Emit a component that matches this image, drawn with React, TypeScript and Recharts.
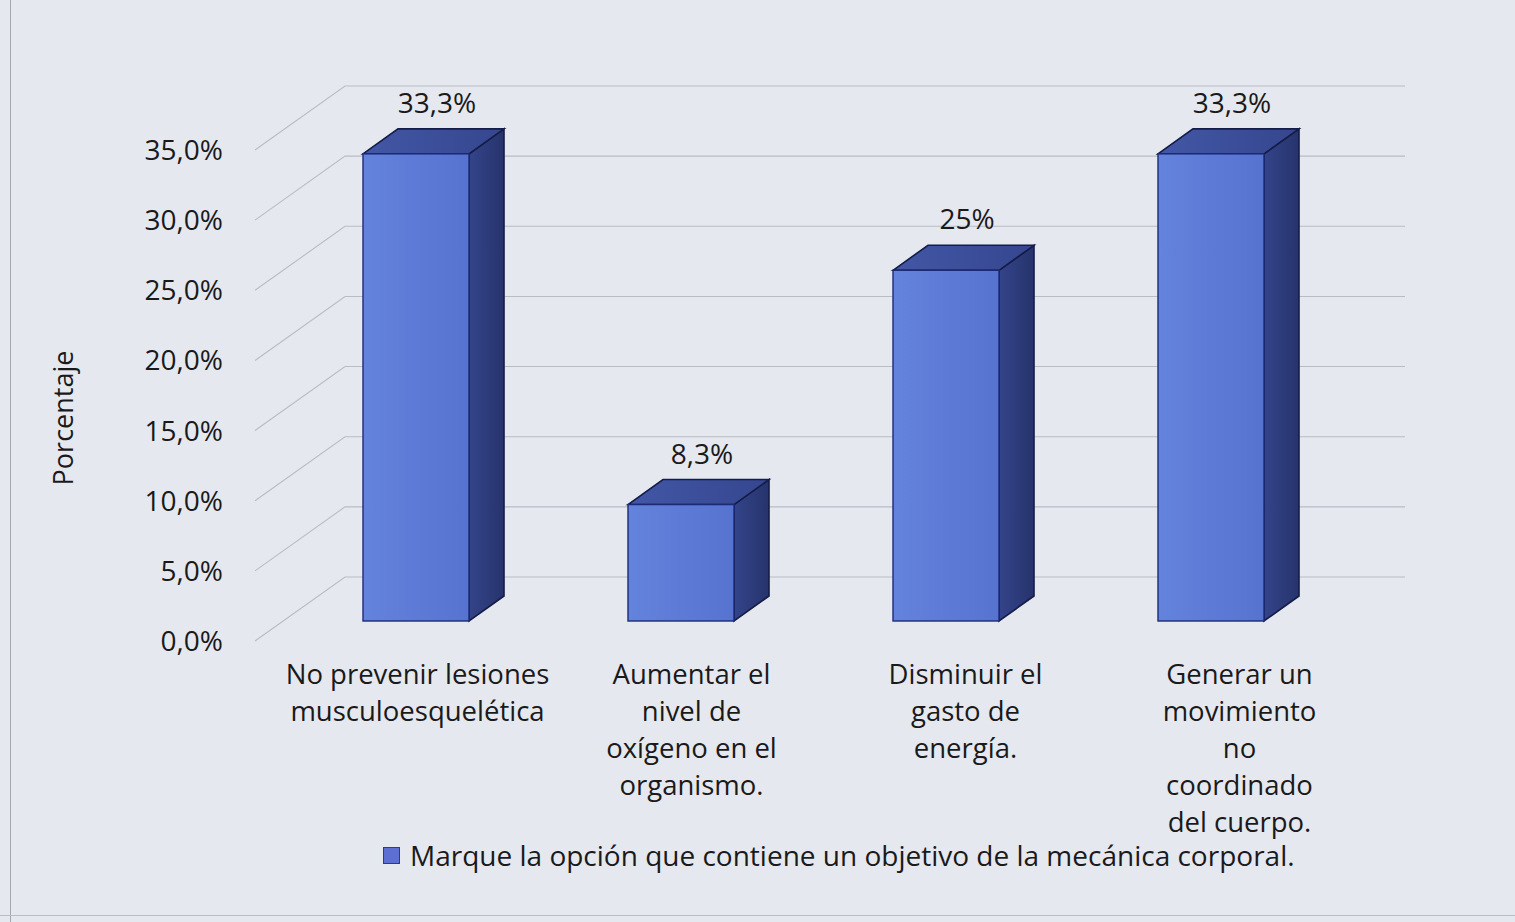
import { Bar, BarChart, CartesianGrid, LabelList, Legend, XAxis, YAxis } from "recharts";

const CATEGORIES = [
  "No prevenir lesiones\nmusculoesquelética",
  "Aumentar el\nnivel de\noxígeno en el\norganismo.",
  "Disminuir el\ngasto de\nenergía.",
  "Generar un\nmovimiento\nno\ncoordinado\ndel cuerpo.",
];
const VALUES = [33.3, 8.3, 25, 33.3];
const Y_TICKS = [0, 5, 10, 15, 20, 25, 30, 35];
const SERIES_NAME = "Marque la opción que contiene un objetivo de la mecánica corporal.";

const data = CATEGORIES.map((name, i) => ({ name, value: VALUES[i] }));

const FONT = "'Open Sans', Lato, sans-serif";
const BG = "#e6e8ef";
const GRID = "#b8bcc5";

// perspective offsets
const WALL_DX = 90;
const WALL_DY = -64;
const BAR_DX = 28;
const BAR_DY = -20;
const DEPTH_DX = 35;
const DEPTH_DY = -25;

function GridLine(props: any) {
  const { x1, y1, x2 } = props;
  const d = `M${x1},${y1} L${x1 + WALL_DX},${y1 + WALL_DY} L${x2 + WALL_DX},${y1 + WALL_DY}`;
  return <path d={d} fill="none" stroke={GRID} strokeWidth={1.1} />;
}

function Bar3D(props: any) {
  const { x, y, width, height } = props;
  if (!height) return null;
  const fx = x + BAR_DX;
  const fy = y + BAR_DY;
  const w = width;
  const h = height;
  const top = `${fx},${fy} ${fx + DEPTH_DX},${fy + DEPTH_DY} ${fx + w + DEPTH_DX},${fy + DEPTH_DY} ${fx + w},${fy}`;
  const side = `${fx + w},${fy} ${fx + w + DEPTH_DX},${fy + DEPTH_DY} ${fx + w + DEPTH_DX},${fy + h + DEPTH_DY} ${fx + w},${fy + h}`;
  return (
    <g>
      <polygon points={side} fill="url(#sideGrad)" stroke="#141c48" strokeWidth={1.6} />
      <polygon points={top} fill="url(#topGrad)" stroke="#141c48" strokeWidth={1.6} />
      <rect x={fx} y={fy} width={w} height={h} fill="url(#frontGrad)" stroke="#1d2a78" strokeWidth={1.4} />
    </g>
  );
}

function ValueLabel(props: any) {
  const { x, y, width, value } = props;
  const cx = x + BAR_DX + width / 2 + 21;
  const ty = y + BAR_DY + DEPTH_DY - 16;
  const text = String(value).replace(".", ",") + "%";
  return (
    <text x={cx} y={ty} textAnchor="middle" fontSize={28} fontFamily={FONT} fill="#1a1a1a">
      {text}
    </text>
  );
}

function CategoryTick(props: any) {
  const { x, y, payload, index } = props;
  const lines = String(payload.value).split("\n");
  const cx = x + 30 + index * 9;
  return (
    <text x={cx} y={y} textAnchor="middle" fontSize={27.5} fontFamily={FONT} fill="#1a1a1a">
      {lines.map((line, i) => (
        <tspan key={i} x={cx} y={y + 35 + i * 37}>
          {line}
        </tspan>
      ))}
    </text>
  );
}

function AxisTitle() {
  return (
    <text
      x={62}
      y={418}
      transform="rotate(-90, 62, 418)"
      textAnchor="middle"
      dominantBaseline="central"
      fontSize={27}
      fontFamily={FONT}
      fill="#1a1a1a"
    >
      Porcentaje
    </text>
  );
}

function LegendContent() {
  return (
    <div style={{ display: "flex", alignItems: "center", fontFamily: FONT, fontSize: 28, color: "#1a1a1a" }}>
      <span
        style={{
          display: "inline-block",
          width: 15,
          height: 15,
          background: "#5b70d2",
          border: "1.5px solid #2b3a8a",
          marginRight: 10,
        }}
      />
      <span>{SERIES_NAME}</span>
    </div>
  );
}

export default function App() {
  return (
    <div
      style={{
        position: "absolute",
        left: 0,
        top: 0,
        width: 1515,
        height: 922,
        background: BG,
        overflow: "hidden",
      }}
    >
      <div style={{ position: "absolute", left: 10, top: 0, width: 1, height: 922, background: "#a4a7ae" }} />
      <div style={{ position: "absolute", left: 0, top: 915, width: 1515, height: 1, background: "#b9bcc3" }} />
      <BarChart
        width={1515}
        height={922}
        data={data}
        margin={{ top: 150, right: 200, bottom: 65, left: 155 }}
        barSize={106}
      >
        <defs>
          <linearGradient id="frontGrad" x1="0" y1="0" x2="1" y2="0">
            <stop offset="0%" stopColor="#6483dc" />
            <stop offset="100%" stopColor="#5673d0" />
          </linearGradient>
          <linearGradient id="topGrad" x1="0" y1="0" x2="1" y2="0">
            <stop offset="0%" stopColor="#4257a6" />
            <stop offset="100%" stopColor="#36468f" />
          </linearGradient>
          <linearGradient id="sideGrad" x1="0" y1="0" x2="1" y2="0">
            <stop offset="0%" stopColor="#34448a" />
            <stop offset="100%" stopColor="#26336c" />
          </linearGradient>
        </defs>
        <CartesianGrid vertical={false} horizontal={(p: any) => <GridLine key={p.key ?? p.index} {...p} />} />
        <XAxis
          dataKey="name"
          axisLine={false}
          tickLine={false}
          height={178}
          interval={0}
          tick={<CategoryTick />}
        />
        <YAxis
          domain={[0, 35]}
          ticks={Y_TICKS}
          axisLine={false}
          tickLine={false}
          width={100}
          tickMargin={26}
          tickFormatter={(v: number) => v.toFixed(1).replace(".", ",") + "%"}
          tick={{ fontSize: 28, fontFamily: FONT, fill: "#1a1a1a" }}
          label={<AxisTitle />}
        />
        <Legend
          verticalAlign="bottom"
          content={<LegendContent />}
          wrapperStyle={{ position: "absolute", left: 383, top: 836, width: 1100, bottom: "auto" }}
        />
        <Bar dataKey="value" name={SERIES_NAME} shape={<Bar3D />} isAnimationActive={false}>
          <LabelList dataKey="value" content={<ValueLabel />} />
        </Bar>
      </BarChart>
    </div>
  );
}
